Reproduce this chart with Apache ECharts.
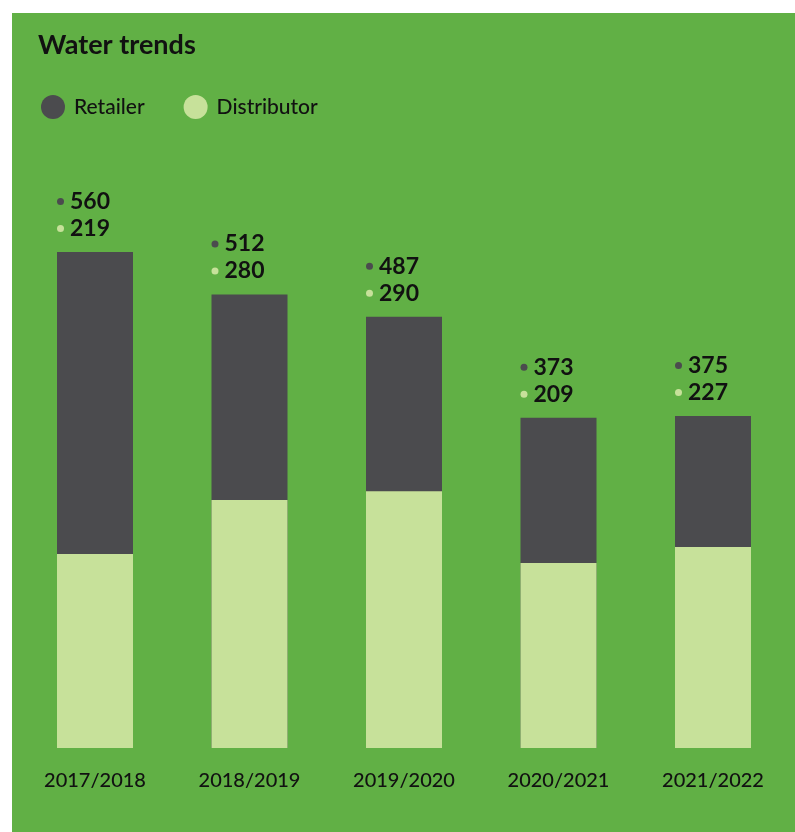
<!DOCTYPE html>
<html>
<head>
<meta charset="utf-8">
<script src="https://cdn.jsdelivr.net/npm/echarts@6/dist/echarts.min.js"></script>
<style>
html,body{margin:0;padding:0;background:#fff;width:795px;height:832px;overflow:hidden;}
#chart{position:absolute;left:12px;top:13px;width:783px;height:819px;}
</style>
</head>
<body>
<div id="chart"></div>
<script>
const categories = ['2017/2018', '2018/2019', '2019/2020', '2020/2021', '2021/2022'];
const retailer = [560, 512, 487, 373, 375];
const distributor = [219, 280, 290, 209, 227];

const GREEN = '#61b045';
const DARK = '#4b4b4e';
const LIGHT = '#c7e19a';
const FONT = 'Lato, "Noto Sans", sans-serif';

const chart = echarts.init(document.getElementById('chart'));
chart.setOption({
  backgroundColor: GREEN,
  animation: false,
  title: {
    text: 'Water trends',
    left: 21,
    top: 14,
    textStyle: { fontFamily: FONT, fontSize: 27, fontWeight: 'bold', color: '#111' }
  },
  legend: {
    left: 24,
    top: 77,
    icon: 'circle',
    itemWidth: 24,
    itemHeight: 24,
    itemGap: 39,
    textStyle: { fontFamily: FONT, fontSize: 21, fontWeight: 500, color: '#111', padding: [0, 0, 0, 4] },
    data: ['Retailer', 'Distributor']
  },
  grid: { left: 5.75, right: 4.75, top: 203.6, bottom: 84 },
  xAxis: {
    type: 'category',
    data: categories,
    axisLine: { show: false },
    axisTick: { show: false },
    axisLabel: { margin: 23, fontFamily: FONT, fontSize: 20, fontWeight: 500, color: '#111' }
  },
  yAxis: {
    type: 'value',
    min: 0,
    max: 600,
    show: false,
    splitLine: { show: false }
  },
  series: [
    {
      name: 'Retailer',
      type: 'bar',
      data: retailer,
      barWidth: 76,
      barGap: '-100%',
      itemStyle: { color: DARK },
      label: {
        show: true,
        position: [0, -64],
        align: 'left',
        verticalAlign: 'top',
        formatter: p => '{d1|}{v|' + retailer[p.dataIndex] + '}\n{d2|}{v|' + distributor[p.dataIndex] + '}',
        rich: {
          d1: { width: 7, height: 7, borderRadius: 3.5, backgroundColor: DARK },
          d2: { width: 7, height: 7, borderRadius: 3.5, backgroundColor: LIGHT },
          v: { fontFamily: FONT, fontSize: 23, fontWeight: 'bold', color: '#111', lineHeight: 27, padding: [0, 0, 0, 6] }
        }
      }
    },
    {
      name: 'Distributor',
      type: 'bar',
      data: distributor,
      barWidth: 76,
      itemStyle: { color: LIGHT }
    }
  ]
});
</script>
</body>
</html>
